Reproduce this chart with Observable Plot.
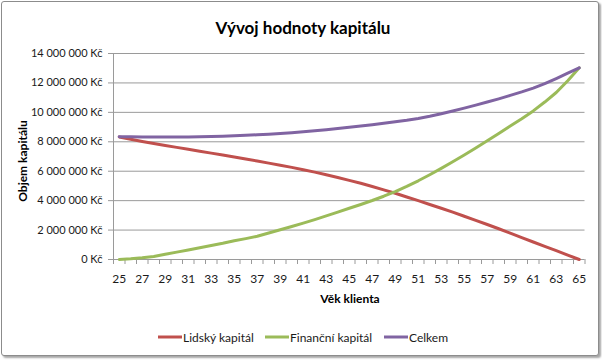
<!DOCTYPE html>
<html>
<head>
<meta charset="utf-8">
<script src="https://cdn.jsdelivr.net/npm/d3@7"></script>
<script src="https://cdn.jsdelivr.net/npm/@observablehq/plot@0.6"></script>
<style>
  html, body { margin: 0; padding: 0; background: #fff; }
  #wrap { position: relative; width: 602px; height: 360px; overflow: hidden; background: #fff; }
  #frame { position: absolute; left: 1px; top: 1px; width: 596px; height: 353px;
           border: 1px solid #8c8c8c; border-radius: 3px;
           box-shadow: 2px 2px 2px rgba(0,0,0,0.35); background: #fff; }
  #chart { position: absolute; left: 0; top: 0; }
</style>
</head>
<body>
<div id="wrap"><div id="frame"></div><div id="chart"></div></div>
<script>
// ---- data (values in millions Kč) ----
const ages = d3.range(25, 66);
const lidsky = [8.33, 8.17, 8.02, 7.88, 7.75, 7.62, 7.49, 7.36, 7.23, 7.10,
                6.97, 6.83, 6.69, 6.55, 6.41, 6.26, 6.10, 5.94, 5.76, 5.57,
                5.38, 5.18, 4.96, 4.73, 4.50, 4.25, 4.00, 3.74, 3.48, 3.22,
                2.94, 2.66, 2.38, 2.09, 1.79, 1.49, 1.19, 0.89, 0.60, 0.30, 0.00];
const financni = [0.00, 0.05, 0.12, 0.21, 0.35, 0.50, 0.65, 0.80, 0.95, 1.10,
                  1.27, 1.42, 1.58, 1.80, 2.02, 2.24, 2.47, 2.71, 2.96, 3.22,
                  3.48, 3.74, 4.01, 4.30, 4.62, 4.97, 5.35, 5.76, 6.19, 6.64,
                  7.10, 7.58, 8.07, 8.57, 9.07, 9.57, 10.10, 10.70, 11.35, 12.15, 13.03];
const celkem = [8.35, 8.34, 8.33, 8.33, 8.33, 8.33, 8.33, 8.34, 8.36, 8.38,
                8.41, 8.44, 8.48, 8.52, 8.57, 8.62, 8.68, 8.75, 8.82, 8.90,
                8.98, 9.07, 9.16, 9.26, 9.36, 9.46, 9.58, 9.73, 9.90, 10.09,
                10.29, 10.49, 10.70, 10.92, 11.15, 11.39, 11.65, 11.95, 12.30, 12.66, 13.03];
const yTicks = [0, 2e6, 4e6, 6e6, 8e6, 10e6, 12e6, 14e6];
const xTickLabels = d3.range(25, 66, 2);
const seriesNames = ["Lidský kapitál", "Finanční kapitál", "Celkem"];
const seriesColors = ["#C0504D", "#9BBB59", "#8064A2"];
const title = "Vývoj hodnoty kapitálu";
const xTitle = "Věk klienta";
const yTitle = "Objem kapitálu";

const seriesValues = [lidsky, financni, celkem];
const rows = seriesNames.map((name, s) => ages.map((a, i) => ({age: a, value: seriesValues[s][i] * 1e6, name})));
const fmt = d => d3.format(",")(d).replace(/,/g, "\u00a0") + "\u00a0Kč";
const tickBounds = d3.range(24.5, 66, 1);
const grid = "#9a9a9a";

const plot = Plot.plot({
  width: 602, height: 360,
  marginLeft: 113, marginRight: 17.5, marginTop: 53, marginBottom: 101,
  x: {domain: [24.5, 65.5]},
  y: {domain: [0, 14e6]},
  style: {fontFamily: "Lato, sans-serif", fontSize: "11px", color: "#1a1a1a", background: "transparent", overflow: "visible"},
  marks: [
    Plot.ruleY(yTicks.slice(1), {stroke: grid, strokeWidth: 1}),
    Plot.axisY({ticks: yTicks, tickSize: 5, tickPadding: 6, tickFormat: fmt, stroke: grid, strokeOpacity: 1, label: null, fontSize: 11}),
    Plot.axisX({ticks: tickBounds, tickSize: 5, tickFormat: () => "", stroke: grid, strokeOpacity: 1, label: null}),
    Plot.axisX({ticks: xTickLabels, tickSize: 0, tickPadding: 15, tickFormat: d => String(d), label: null, fontSize: 12}),
    Plot.ruleX([24.5], {stroke: grid}),
    Plot.ruleY([0], {stroke: grid}),
    ...rows.map((r, s) => Plot.line(r, {x: "age", y: "value", stroke: seriesColors[s], strokeWidth: 3, strokeLinejoin: "round", strokeLinecap: "round"}))
  ]
});
document.getElementById("chart").appendChild(plot);

// texts: title, axis titles, legend
const svg = d3.select(plot);
const g = svg.append("g").attr("font-family", "Lato, sans-serif").attr("fill", "#000").attr("text-anchor", "start");
g.append("text").attr("x", 303).attr("y", 34).attr("text-anchor", "middle")
  .attr("font-size", 17).attr("font-weight", "bold").text(title);
g.append("text").attr("x", 350).attr("y", 303).attr("text-anchor", "middle")
  .attr("font-size", 12).attr("font-weight", "bold").text(xTitle);
g.append("text").attr("transform", "translate(27,161) rotate(-90)").attr("text-anchor", "middle")
  .attr("font-size", 12).attr("font-weight", "bold").text(yTitle);

const legendX = [158, 265, 384];
seriesNames.forEach((name, s) => {
  const lg = g.append("g").attr("transform", `translate(${legendX[s]},337)`);
  lg.append("line").attr("x1", 0).attr("x2", 24).attr("y1", 0).attr("y2", 0)
    .attr("stroke", seriesColors[s]).attr("stroke-width", 3);
  lg.append("text").attr("x", 25).attr("y", 4.5).attr("text-anchor", "start")
    .attr("font-size", 12).attr("fill", "#1a1a1a").text(name);
});
</script>
</body>
</html>
